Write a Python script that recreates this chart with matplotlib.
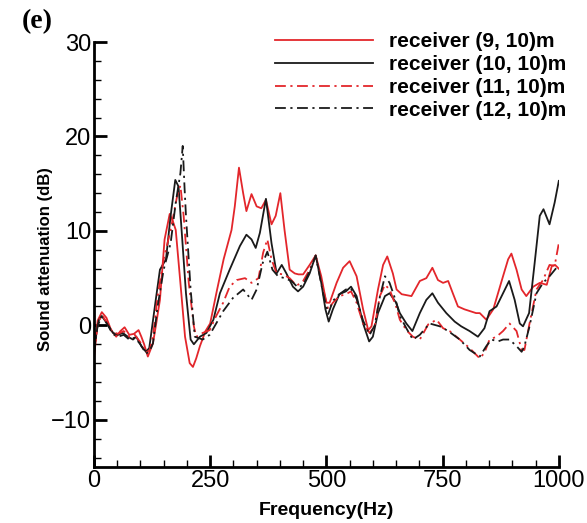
import numpy as np
import matplotlib
matplotlib.use("Agg")
import matplotlib.pyplot as plt
from matplotlib.ticker import MultipleLocator

plt.rcParams['font.family'] = ['Liberation Sans', 'DejaVu Sans']

# receiver (9, 10)m - red solid
f_r9 = [0, 8, 17, 27, 37, 48, 57, 66, 76, 86, 96, 102, 108, 116, 127, 135, 142, 152,
        163, 170, 176, 186, 196, 206, 213, 220, 228, 240, 250, 265, 279, 296, 303, 312,
        321, 328, 339, 350, 360, 370, 382, 391, 401, 410, 421, 432, 440, 450, 464, 477,
        489, 500, 507, 522, 536, 550, 565, 579, 590, 597, 611, 622, 631, 643, 651, 662,
        683, 701, 715, 728, 740, 751, 762, 772, 783, 797, 822, 830, 844, 859, 880, 891,
        898, 909, 920, 930, 945, 959, 974, 985, 992, 1000]
a_r9 = [-3.6, 0.5, 1.4, 0.8, -0.5, -1.2, -0.6, -0.2, -1.0, -0.9, -0.5, -1.2, -2.0, -3.3,
        -1.9, 0.5, 2.7, 9.1, 11.8, 11.0, 10.1, 4.5, -1.2, -4.0, -4.4, -3.5, -2.2, -0.6,
        0.2, 3.8, 7.0, 10.1, 12.6, 16.7, 14.0, 12.1, 13.9, 12.6, 12.4, 13.3, 10.7, 11.6,
        14.0, 10.1, 5.9, 5.5, 5.4, 5.4, 6.4, 7.4, 5.2, 2.4, 2.4, 4.5, 6.1, 6.8, 5.2, 1.7,
        -0.5, -0.1, 3.8, 6.4, 7.3, 5.5, 3.8, 3.3, 3.1, 4.7, 5.0, 6.1, 4.8, 4.5, 4.7, 3.4,
        2.0, 1.7, 1.3, 1.3, 0.6, 1.7, 5.2, 7.0, 7.6, 5.9, 3.8, 3.1, 4.1, 4.5, 4.3, 6.3,
        6.4, 6.0]

# receiver (10, 10)m - black solid
f_r10 = [0, 6, 11, 17, 28, 41, 52, 62, 73, 84, 91, 102, 112, 119, 133, 142, 155, 165,
         175, 182, 189, 198, 208, 215, 228, 242, 257, 271, 292, 314, 328, 339, 348, 357,
         370, 382, 393, 404, 414, 428, 439, 450, 464, 477, 489, 498, 505, 514, 528, 542,
         553, 565, 579, 592, 600, 611, 626, 636, 650, 658, 672, 685, 701, 715, 728, 740,
         758, 776, 790, 808, 826, 840, 851, 866, 880, 893, 905, 916, 923, 936, 948, 959,
         967, 980, 991, 1000]
a_r10 = [-3.0, -0.5, 0.6, 1.0, 0.2, -0.8, -1.0, -0.8, -1.2, -1.5, -1.2, -2.2, -2.8, -2.4,
         2.7, 5.9, 7.0, 11.6, 15.4, 14.7, 9.8, 3.4, -1.5, -2.0, -1.2, -0.8, 0.6, 3.4, 5.9,
         8.4, 9.6, 9.1, 8.2, 9.8, 13.4, 8.7, 5.5, 6.4, 5.5, 4.1, 3.6, 4.1, 5.5, 7.4, 4.5,
         1.7, 0.4, 1.7, 3.3, 3.6, 4.1, 3.1, 0.2, -1.7, -1.2, 1.3, 3.1, 3.4, 2.4, 1.3, 0.2,
         -0.6, 1.3, 2.7, 3.4, 2.4, 1.3, 0.4, -0.1, -0.6, -1.2, -0.3, 1.5, 2.0, 3.4, 4.7,
         2.7, 0.2, -0.1, 1.3, 6.6, 11.6, 12.3, 10.7, 13.0, 15.3]

# receiver (11, 10)m - red dash-dot
f_r11 = [0, 8, 17, 28, 40, 52, 64, 76, 88, 100, 112, 120, 127, 137, 150, 165, 179, 186,
         193, 204, 215, 220, 234, 249, 263, 278, 292, 307, 325, 339, 354, 364, 373, 382,
         393, 407, 421, 436, 450, 464, 477, 493, 504, 514, 528, 542, 553, 565, 579, 593,
         604, 615, 626, 636, 650, 658, 672, 686, 701, 719, 737, 751, 765, 787, 808, 830,
         840, 851, 866, 880, 894, 909, 920, 926, 937, 952, 966, 980, 991, 1000]
a_r11 = [-3.3, 0.2, 1.1, 0.3, -0.7, -0.9, -0.6, -1.2, -1.0, -1.8, -2.9, -2.6, -1.2, 3.1,
         7.0, 10.1, 13.7, 14.8, 11.6, 4.5, -0.1, -1.2, -0.8, -0.5, 1.0, 2.4, 4.1, 4.8, 5.0,
         4.5, 5.0, 7.7, 9.1, 7.0, 5.5, 5.4, 5.0, 4.2, 4.7, 5.9, 7.4, 3.8, 1.7, 2.4, 3.1,
         3.3, 3.6, 2.4, 0.2, -0.8, -0.1, 3.1, 4.3, 3.8, 2.0, 0.6, -0.5, -1.2, -1.5, 0.1,
         0.6, -0.3, -0.6, -1.5, -2.4, -3.5, -2.9, -1.5, -1.2, -0.6, 0.2, -0.6, -2.6, -2.6,
         0.2, 3.8, 4.8, 6.4, 6.3, 8.7]

# receiver (12, 10)m - black dash-dot
f_r12 = [0, 8, 17, 28, 40, 52, 64, 76, 88, 100, 112, 120, 127, 137, 150, 165, 176, 186,
         191, 195, 198, 208, 217, 234, 249, 263, 278, 299, 321, 339, 350, 363, 373, 384,
         396, 410, 425, 439, 450, 464, 477, 493, 504, 514, 528, 542, 553, 565, 579, 593,
         604, 615, 626, 636, 650, 658, 672, 686, 701, 722, 744, 762, 787, 808, 830, 844,
         855, 869, 880, 894, 909, 920, 926, 937, 952, 966, 980, 1000]
a_r12 = [-3.0, 0.0, 0.9, 0.2, -0.9, -1.2, -1.0, -1.5, -1.3, -2.0, -3.0, -2.7, -1.9, 2.0,
         5.9, 8.7, 13.0, 16.1, 19.0, 14.5, 11.6, 3.8, -1.2, -1.5, -1.0, 0.2, 1.5, 2.9, 3.8,
         2.7, 3.8, 6.6, 7.8, 5.9, 5.2, 5.0, 4.7, 4.0, 4.3, 5.7, 7.4, 3.4, 1.2, 2.6, 3.3,
         3.8, 3.9, 2.8, 0.5, -1.0, 0.0, 3.0, 5.2, 4.5, 2.5, 1.0, -0.3, -1.5, -1.0, 0.2,
         -0.1, -0.6, -1.5, -2.6, -3.3, -2.2, -1.5, -1.7, -1.5, -1.5, -2.2, -2.8, -2.2, -0.1,
         3.4, 4.5, 5.2, 6.4]

red = '#e3262b'
blk = '#1a1a1a'
dashdot = (0, (6, 2.5, 1.2, 2.5))

fig = plt.figure(figsize=(5.87, 5.23), dpi=100)
ax = fig.add_axes([0.160, 0.107, 0.792, 0.8126])

ax.plot(f_r9, a_r9, color=red, lw=1.3, label='receiver (9, 10)m')
ax.plot(f_r10, a_r10, color=blk, lw=1.3, label='receiver (10, 10)m')
ax.plot(f_r11, a_r11, color=red, lw=1.3, linestyle=dashdot, label='receiver (11, 10)m')
ax.plot(f_r12, a_r12, color=blk, lw=1.3, linestyle=dashdot, label='receiver (12, 10)m')

ax.set_xlim(0, 1000)
ax.set_ylim(-15, 30)
ax.xaxis.set_major_locator(MultipleLocator(250))
ax.xaxis.set_minor_locator(MultipleLocator(50))
ax.yaxis.set_major_locator(MultipleLocator(10))
ax.yaxis.set_minor_locator(MultipleLocator(2))
ax.set_yticks([-10, 0, 10, 20, 30])
ax.spines['top'].set_visible(False)
ax.spines['right'].set_visible(False)
for s in ('left', 'bottom'):
    ax.spines[s].set_linewidth(2)
ax.tick_params(which='major', direction='in', length=9, width=2, labelsize=17, pad=2)
ax.tick_params(which='minor', direction='in', length=5, width=1)

ax.set_xlabel('Frequency(Hz)', fontsize=14, fontweight='bold', labelpad=7)
ax.set_ylabel('Sound attenuation (dB)', fontsize=12, fontweight='bold')
ax.yaxis.set_label_coords(-0.088, 0.49)

leg = ax.legend(loc='upper right', bbox_to_anchor=(575 / 587, 1 - 24 / 523),
                bbox_transform=fig.transFigure, frameon=False,
                prop={'weight': 'bold', 'size': 15}, handlelength=4.7,
                handletextpad=0.8, labelspacing=0.18, borderaxespad=0)

fig.text(22 / 587, 1 - 22 / 523, '(e)', fontsize=20, fontweight='bold',
         family='Liberation Serif', va='center', ha='left')

fig.savefig('out.png', dpi=100)
